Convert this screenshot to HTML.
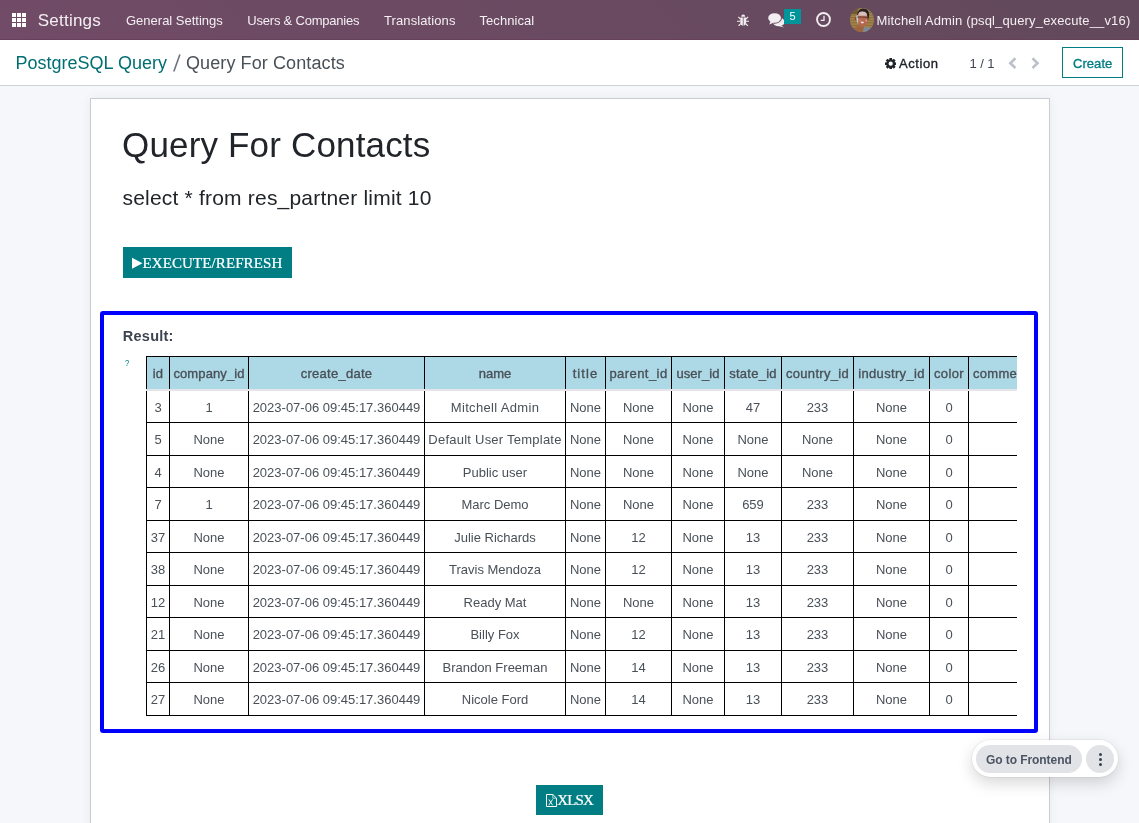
<!DOCTYPE html>
<html>
<head>
<meta charset="utf-8">
<title>Odoo - Query For Contacts</title>
<style>
*{box-sizing:border-box;margin:0;padding:0}
html,body{width:1139px;height:823px;overflow:hidden}
body{font-family:"Liberation Sans",sans-serif;font-size:13px;color:#495057;background:#f6f7fa;position:relative}
.abs{position:absolute;white-space:nowrap;line-height:1}
#root{position:absolute;left:0;top:0;width:1139px;height:823px;overflow:hidden;will-change:transform}
/* navbar */
#nav{position:absolute;left:0;top:0;width:1139px;height:40px;background:linear-gradient(45deg,#714b67 0%,#62495b 100%);border-bottom:1px solid #67405c}
#nav .abs{color:#f3eff2}
#apps{position:absolute;left:12px;top:13px;width:14px;height:14px}
#apps i{position:absolute;width:4px;height:4px;background:#fff}
#brand{left:37.700px;top:11.700px;font-size:17px;letter-spacing:.24px;color:#f1edf0}
.mi{top:14px;font-size:13px}
#badge{position:absolute;left:784px;top:9px;width:17px;height:15px;background:#00949b;color:#fff;font-size:11px;text-align:center;line-height:14.500px}
/* control panel */
#cp{position:absolute;left:0;top:40px;width:1139px;height:46px;background:#fff;border-bottom:1px solid #cfd2d8}
.bc{top:14px;font-size:18px}
#create{position:absolute;left:1062px;top:7px;width:61px;height:31px;border:1px solid #017e84;background:#fff}
/* sheet */
#sheet{position:absolute;left:90px;top:98px;width:960px;height:740px;background:#fff;border:1px solid #c9ccd2;box-shadow:0 0 10px rgba(0,0,0,.055)}
#title{left:122px;top:126.500px;font-size:35px;letter-spacing:.17px;color:#212529}
#query{left:122.500px;top:187px;font-size:21px;letter-spacing:.2px;color:#212529}
.btn{position:absolute;background:#017e84;color:#fff;font-family:"Liberation Serif",serif;font-size:15px;-webkit-text-stroke:.22px #fff}
#exec{left:123px;top:247px;width:169px;height:31px}
#xlsx{left:536px;top:785px;width:67px;height:30px}
#res{position:absolute;left:100px;top:311px;width:938px;height:422px;border:4px solid #0000ff;border-radius:3px;background:#fff}
#reslabel{left:122.800px;top:328.500px;font-size:14.500px;font-weight:700;letter-spacing:.25px;color:#3d4451}
#q{left:125.400px;top:358.600px;font-size:9px;color:#017e84;transform:scaleX(.85);transform-origin:0 0}
#tw{position:absolute;left:146px;top:356px;width:871px;height:362px;overflow:hidden}
table{border-collapse:collapse;table-layout:fixed;width:1020px;font-size:13px;color:#495057}
th,td{border:1px solid #000;padding:7px 0 5px;text-align:center;line-height:19.5px;white-space:nowrap;overflow:hidden}
th{background:#add8e6;font-weight:400;letter-spacing:.25px;padding:6.500px 0 5.500px;-webkit-text-stroke:.35px #495057;border-bottom:2px solid #e3e5e8}
/* frontend widget */
#fw{position:absolute;left:972px;top:740px;width:146px;height:37px;border-radius:19px;background:#fff;box-shadow:0 0 0 1px rgba(0,0,0,.045),0 6px 16px rgba(0,0,0,.16)}
#fw .p{position:absolute;left:4px;top:5px;width:106px;height:28px;border-radius:14px;background:#e2e3e7}
#fw .c{position:absolute;left:114px;top:5px;width:28px;height:28px;border-radius:14px;background:#e2e3e7}
#fw .c i{position:absolute;left:12.5px;width:3px;height:3px;border-radius:50%;background:#374151}
</style>
</head>
<body>
<div id="root">
<div id="nav">
  <div id="apps">
    <i style="left:0;top:0"></i><i style="left:5px;top:0"></i><i style="left:10px;top:0"></i>
    <i style="left:0;top:5px"></i><i style="left:5px;top:5px"></i><i style="left:10px;top:5px"></i>
    <i style="left:0;top:10px"></i><i style="left:5px;top:10px"></i><i style="left:10px;top:10px"></i>
  </div>
  <span class="abs" id="brand">Settings</span>
  <span class="abs mi" id="m1" style="left:126px">General Settings</span>
  <span class="abs mi" id="m2" style="left:247.300px;letter-spacing:-.21px">Users &amp; Companies</span>
  <span class="abs mi" id="m3" style="left:384px;letter-spacing:.1px">Translations</span>
  <span class="abs mi" id="m4" style="left:479.500px;letter-spacing:.05px">Technical</span>
  <svg id="bug" style="position:absolute;left:737px;top:13.500px" width="12.400" height="12.400" viewBox="0 0 12.400 12.400"><g fill="#f1edf0" stroke="none"><path d="M4.200 2.700a2 2.100 0 0 1 4 0z"/><path d="M3.300 3.500h2.550v8.300a2.900 3.200 0 0 1-2.550-3.200zM6.550 3.500h2.550v5.100a2.900 3.200 0 0 1-2.550 3.200z"/></g><g stroke="#f1edf0" stroke-width="1.100" fill="none"><path d="M3.500 5.200L1.300 2.900M8.900 5.200L11.100 2.900M0 7.300h3.500M8.900 7.300h3.500M3.700 9.600L1.500 12M8.700 9.600L10.900 12"/></g></svg>
  <svg id="chat" style="position:absolute;left:768px;top:13px" width="17" height="15" viewBox="0 0 17 15"><g fill="#f1edf0"><ellipse cx="10.700" cy="8.900" rx="5.900" ry="4.300"/><path d="M12.600 12.200l3.600 2.300-4.800-1.300z"/></g><ellipse cx="6.600" cy="5" rx="7.400" ry="5.800" fill="#6a4a62"/><g fill="#f1edf0"><ellipse cx="6.600" cy="5" rx="6.400" ry="4.800"/><path d="M2.600 8.200L1.300 11.600 6 9.500z"/></g></svg>
  <div id="badge">5</div>
  <svg id="clock" style="position:absolute;left:816px;top:12.400px" width="15" height="15" viewBox="0 0 15 15"><circle cx="7.500" cy="7.500" r="6.450" fill="none" stroke="#f1edf0" stroke-width="1.900"/><path d="M8 3.700v4.700H4.700" fill="none" stroke="#f1edf0" stroke-width="1.300"/></svg>
  <svg id="avatar" style="position:absolute;left:850px;top:8px" width="24" height="24" viewBox="0 0 24 24"><defs><clipPath id="avc"><circle cx="12" cy="12" r="12"/></clipPath><filter id="avb" x="-20%" y="-20%" width="140%" height="140%"><feGaussianBlur stdDeviation=".400"/></filter></defs><g clip-path="url(#avc)"><rect width="24" height="24" fill="#a3854a"/><g filter="url(#avb)"><path d="M0 4.500h24M0 7h24M0 9.600h24M0 12.200h24M0 14.800h24M0 17.400h24M0 20h24" stroke="#806535" stroke-width=".800" fill="none"/><rect x="0" y="0" width="8" height="6" fill="#6b532c" opacity=".8"/><path d="M2 24L4.500 19.500 9 17.500 14 18 13.500 24z" fill="#9c6540"/><path d="M13 24L13.800 19.500 19.500 19 21 24z" fill="#7c8b99"/><path d="M7.300 9C6.500 3.500 10 .400 13 .500 17.800.600 19.800 4 19 8 18.900 10 18.500 12 17.500 12.300L17 6.500 8.300 6.200z" fill="#2a2224"/><ellipse cx="5.600" cy="10.800" rx=".800" ry="1.500" fill="#9c3a28"/><path d="M8.200 6C8.300 4 16.800 4 17 6.500L17.700 12C17.700 16 15 18.800 12.500 18.800 9.500 18.800 7 16.500 7 12z" fill="#b5664f"/><path d="M8.400 7.800C8.400 4.500 9.500 3.600 12.500 3.600 15.500 3.600 16.900 4.800 17 7.800z" fill="#d9c0bd"/><path d="M6.300 8C7.200 6.800 8.200 6.800 8.200 8L8.200 16C7.200 15 6.300 12 6.300 8z" fill="#c9c6cc"/><path d="M7.300 9.200Q12.500 8.600 17.800 9.700" stroke="#4a3434" stroke-width="1.200" fill="none" opacity=".7"/><ellipse cx="12.300" cy="14.400" rx="1.600" ry=".900" fill="#efe0df"/><ellipse cx="16.200" cy="12.600" rx=".900" ry="1.100" fill="#d9a090"/><ellipse cx="10" cy="12.600" rx="1" ry="1" fill="#c98672"/></g></g></svg>
  <span class="abs mi" id="user" style="left:876.5px;letter-spacing:.15px">Mitchell Admin (psql_query_execute__v16)</span>
</div>
<div id="cp">
  <span class="abs bc" id="bc1" style="left:15.500px;color:#016e74">PostgreSQL Query</span>
  <svg id="bc2" style="position:absolute;left:172px;top:13px" width="9" height="20" viewBox="0 0 9 20"><path d="M1.800 18.600L7.900 1.400" stroke="#6c757d" stroke-width="1.600" fill="none"/></svg>
  <span class="abs bc" id="bc3" style="left:186px;color:#495057;letter-spacing:.1px">Query For Contacts</span>
  <svg id="gear" style="position:absolute;left:884.500px;top:18px" width="11.400" height="11.400" viewBox="-5.500 -5.500 11 11"><g fill="#212529"><rect x="-1.250" y="-5.500" width="2.500" height="11"/><rect x="-1.250" y="-5.500" width="2.500" height="11" transform="rotate(45)"/><rect x="-1.250" y="-5.500" width="2.500" height="11" transform="rotate(90)"/><rect x="-1.250" y="-5.500" width="2.500" height="11" transform="rotate(135)"/><circle r="4.300"/></g><circle r="2.050" fill="#fff"/></svg>
  <span class="abs" id="action" style="left:899px;top:17px;font-size:13px;letter-spacing:.58px;-webkit-text-stroke:.35px #212529;color:#212529">Action</span>
  <span class="abs" id="pager" style="left:969.500px;top:16.800px;font-size:13px;letter-spacing:-.1px;color:#3f4651">1 / 1</span>
  <svg id="prev" style="position:absolute;left:1008px;top:17px" width="10" height="12" viewBox="0 0 10 12"><path d="M7.400 1.300L2.400 6.200 7.400 11" fill="none" stroke="#bcc0c8" stroke-width="2.600"/></svg>
  <svg id="next" style="position:absolute;left:1029.500px;top:17px" width="10" height="12" viewBox="0 0 10 12"><path d="M2.500 1.300L7.500 6.200 2.500 11" fill="none" stroke="#bcc0c8" stroke-width="2.600"/></svg>
  <div id="create"><span class="abs" id="createt" style="left:10px;top:9px;font-size:13px;letter-spacing:.05px;-webkit-text-stroke:.35px #017e84;color:#017e84">Create</span></div>
</div>
<div id="sheet"></div>
<span class="abs" id="title">Query For Contacts</span>
<span class="abs" id="query">select * from res_partner limit 10</span>
<div class="btn" id="exec">
  <svg style="position:absolute;left:9px;top:10px" width="11" height="12" viewBox="0 0 11 12"><path d="M0 .800L10.500 6.300 0 11.800z" fill="#fff"/></svg>
  <span class="abs" id="exect" style="left:19.500px;top:8.800px;letter-spacing:.1px">EXECUTE/REFRESH</span>
</div>
<div id="res"></div>
<span class="abs" id="reslabel">Result:</span>
<span class="abs" id="q">?</span>
<div id="tw">
<table>
<colgroup><col style="width:23px"><col style="width:79px"><col style="width:176px"><col style="width:141px"><col style="width:40px"><col style="width:66px"><col style="width:53px"><col style="width:57px"><col style="width:72px"><col style="width:76px"><col style="width:39px"><col style="width:198px"></colgroup>
<thead><tr><th style="letter-spacing:0.1px">id</th><th style="letter-spacing:0.1px">company_id</th><th style="letter-spacing:0.27px">create_date</th><th style="letter-spacing:0px">name</th><th style="letter-spacing:1.1px">title</th><th style="letter-spacing:0.44px">parent_id</th><th style="letter-spacing:0.03px">user_id</th><th style="letter-spacing:0.25px">state_id</th><th style="letter-spacing:0.32px">country_id</th><th style="letter-spacing:0.34px">industry_id</th><th style="letter-spacing:0.38px">color</th><th style="text-align:left;padding-left:4px;letter-spacing:.3px">commercial_partner_id</th></tr></thead>
<tbody>
<tr><td>3</td><td>1</td><td>2023-07-06 09:45:17.360449</td><td style="letter-spacing:.33px">Mitchell Admin</td><td>None</td><td>None</td><td>None</td><td>47</td><td>233</td><td>None</td><td>0</td><td></td></tr>
<tr><td>5</td><td>None</td><td>2023-07-06 09:45:17.360449</td><td style="letter-spacing:.24px">Default User Template</td><td>None</td><td>None</td><td>None</td><td>None</td><td>None</td><td>None</td><td>0</td><td></td></tr>
<tr><td>4</td><td>None</td><td>2023-07-06 09:45:17.360449</td><td>Public user</td><td>None</td><td>None</td><td>None</td><td>None</td><td>None</td><td>None</td><td>0</td><td></td></tr>
<tr><td>7</td><td>1</td><td>2023-07-06 09:45:17.360449</td><td>Marc Demo</td><td>None</td><td>None</td><td>None</td><td>659</td><td>233</td><td>None</td><td>0</td><td></td></tr>
<tr><td>37</td><td>None</td><td>2023-07-06 09:45:17.360449</td><td>Julie Richards</td><td>None</td><td>12</td><td>None</td><td>13</td><td>233</td><td>None</td><td>0</td><td></td></tr>
<tr><td>38</td><td>None</td><td>2023-07-06 09:45:17.360449</td><td>Travis Mendoza</td><td>None</td><td>12</td><td>None</td><td>13</td><td>233</td><td>None</td><td>0</td><td></td></tr>
<tr><td>12</td><td>None</td><td>2023-07-06 09:45:17.360449</td><td>Ready Mat</td><td>None</td><td>None</td><td>None</td><td>13</td><td>233</td><td>None</td><td>0</td><td></td></tr>
<tr><td>21</td><td>None</td><td>2023-07-06 09:45:17.360449</td><td>Billy Fox</td><td>None</td><td>12</td><td>None</td><td>13</td><td>233</td><td>None</td><td>0</td><td></td></tr>
<tr><td>26</td><td>None</td><td>2023-07-06 09:45:17.360449</td><td>Brandon Freeman</td><td>None</td><td>14</td><td>None</td><td>13</td><td>233</td><td>None</td><td>0</td><td></td></tr>
<tr><td>27</td><td>None</td><td>2023-07-06 09:45:17.360449</td><td>Nicole Ford</td><td>None</td><td>14</td><td>None</td><td>13</td><td>233</td><td>None</td><td>0</td><td></td></tr>
</tbody>
</table>
</div>
<div class="btn" id="xlsx">
  <svg style="position:absolute;left:10px;top:9px" width="11" height="13" viewBox="0 0 11 13"><path d="M.500.500h6.300l3.700 3.700v8.300h-10z" fill="none" stroke="#fff" stroke-width="1"/><path d="M6.800.500v3.700h3.700" fill="none" stroke="#fff" stroke-width=".800" opacity=".85"/><path d="M2.800 5.400l3.800 5.800M6.600 5.400L2.800 11.200" fill="none" stroke="#fff" stroke-width=".950"/></svg>
  <span class="abs" id="xlsxt" style="left:21.300px;top:8px;letter-spacing:-.9px">XLSX</span>
</div>
<div id="fw">
  <div class="p"><span class="abs" id="fwt" style="left:10px;top:8.800px;letter-spacing:-.07px;font-size:12px;font-weight:700;color:#4b5563">Go to Frontend</span></div>
  <div class="c"><i style="top:8.300px"></i><i style="top:13.100px"></i><i style="top:17.900px"></i></div>
</div>
</div>
</body>
</html>
